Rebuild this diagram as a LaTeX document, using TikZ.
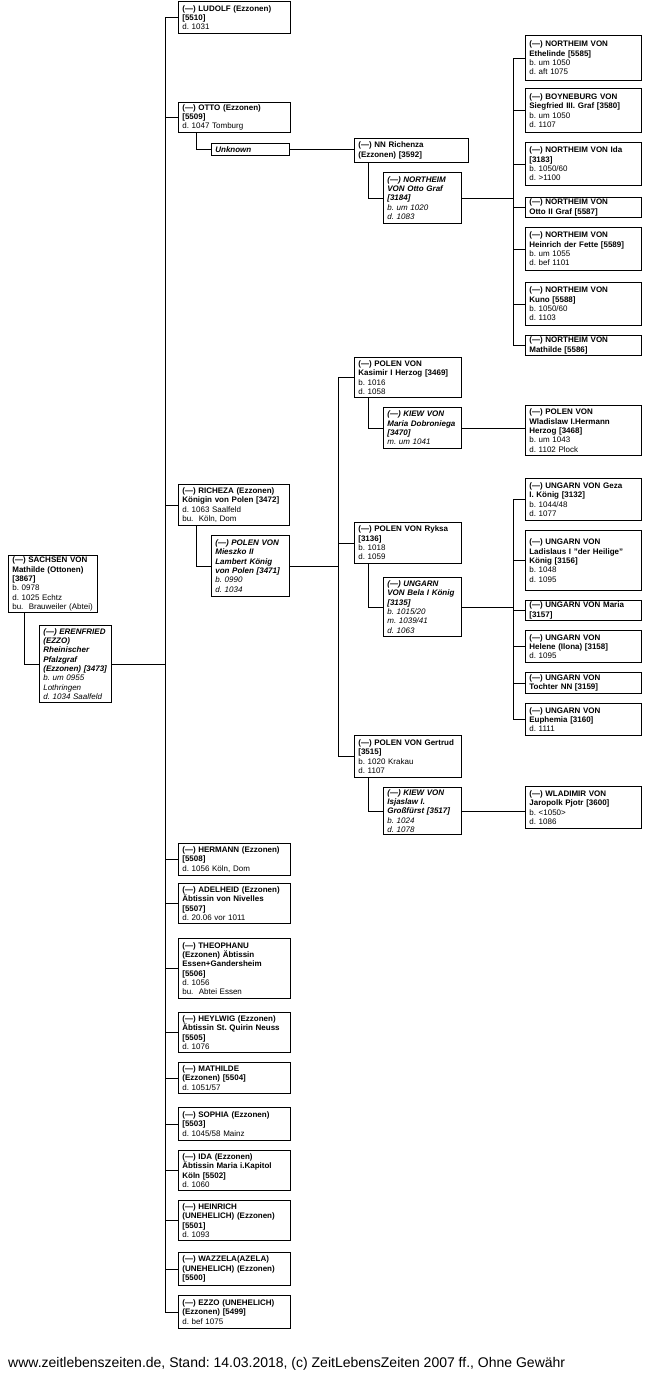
\documentclass[tikz,border=0pt]{standalone}
\usepackage{fontspec}
\setmainfont{Liberation Sans}
\frenchspacing
\tikzset{
  pbox/.style={draw=black, line width=1.1pt, fill=white, inner xsep=3.8pt, inner ysep=1.5pt,
    align=left, font=\fontsize{8}{9.3}\selectfont, anchor=north west},
  conn/.style={draw=black, line width=0.9pt},
}
\newcommand\pers[6]{%
  \pgfmathsetmacro\persTW{#4-7.6}%
  \node[pbox, minimum width=#4pt, minimum height=#5pt, text width=\persTW pt] (#1) at (#2,#3) {#6};}
\newcommand\bi[1]{\textbf{\textit{#1}}}
\begin{document}
\begin{tikzpicture}[x=1pt,y=-1pt]
\useasboundingbox (0,0) rectangle (650,1379);
\fill[white] (0,0) rectangle (650,1379);
\coordinate (t1) at (165,0);
\coordinate (t2) at (338,0);
\coordinate (t3) at (513,0);
% root and spouse
\pers{sachsen}{8}{555}{89}{57}{\textbf{(—) SACHSEN VON\\Mathilde (Ottonen)\\{}[3867]}\\b. 0978\\d. 1025 Echtz\\bu.\ \ Brauweiler (Abtei)}
\pers{erenfried}{39}{625}{72}{77}{\bi{(—) ERENFRIED\\(EZZO)\\Rheinischer\\Pfalzgraf\\(Ezzonen)~[3473]}\\\textit{b. um 0955\\Lothringen\\d. 1034 Saalfeld}}
% children column 1
\pers{ludolf}{178}{1}{112}{32}{\textbf{(—) LUDOLF (Ezzonen)\\{}[5510]}\\d. 1031}
\pers{otto}{178}{102}{112}{30}{\textbf{(—) OTTO (Ezzonen)\\{}[5509]}\\d. 1047 Tomburg}
\pers{unknown}{211}{143}{78}{12}{\bi{Unknown}}
\pers{richeza}{178}{484}{111}{41}{\textbf{(—) RICHEZA (Ezzonen)\\Königin von Polen [3472]}\\d. 1063 Saalfeld\\bu.\ \ Köln, Dom}
\pers{mieszko}{211}{535}{78}{61}{\bi{(—) POLEN VON\\Mieszko II\\Lambert König\\von Polen [3471]}\\\textit{b. 0990\\d. 1034}}
\pers{hermann}{178}{843}{112}{32}{\textbf{(—) HERMANN (Ezzonen)\\{}[5508]}\\d. 1056 Köln, Dom}
\pers{adelheid}{178}{883}{112}{40}{\textbf{(—) ADELHEID (Ezzonen)\\Äbtissin von Nivelles\\{}[5507]}\\d. 20.06 vor 1011}
\pers{theophanu}{178}{938}{112}{60}{\textbf{(—) THEOPHANU\\(Ezzonen) Äbtissin\\Essen+Gandersheim\\{}[5506]}\\d. 1056\\bu.\ \ Abtei Essen}
\pers{heylwig}{178}{1012}{112}{40}{\textbf{(—) HEYLWIG (Ezzonen)\\Äbtissin St. Quirin Neuss\\{}[5505]}\\d. 1076}
\pers{mathildee}{178}{1062}{112}{31}{\textbf{(—) MATHILDE\\(Ezzonen) [5504]}\\d. 1051/57}
\pers{sophia}{178}{1107}{112}{33}{\textbf{(—) SOPHIA (Ezzonen)\\{}[5503]}\\d. 1045/58 Mainz}
\pers{idae}{178}{1150}{112}{40}{\textbf{(—) IDA (Ezzonen)\\Äbtissin Maria i.Kapitol\\Köln [5502]}\\d. 1060}
\pers{heinrichu}{178}{1200}{112}{40}{\textbf{(—) HEINRICH\\(UNEHELICH) (Ezzonen)\\{}[5501]}\\d. 1093}
\pers{wazzela}{178}{1252}{112}{33}{\textbf{(—) WAZZELA(AZELA)\\(UNEHELICH) (Ezzonen)\\{}[5500]}}
\pers{ezzo}{178}{1295}{112}{33}{\textbf{(—) EZZO (UNEHELICH)\\(Ezzonen) [5499]}\\d. bef 1075}
% column 2
\pers{richenza}{354}{138}{114}{24}{\textbf{(—) NN Richenza\\(Ezzonen) [3592]}}
\pers{northeimotto}{383}{172}{78}{51}{\bi{(—) NORTHEIM\\VON Otto Graf\\{}[3184]}\\\textit{b. um 1020\\d. 1083}}
\pers{kasimir}{354}{357}{107}{40}{\textbf{(—) POLEN VON\\Kasimir I Herzog [3469]}\\b. 1016\\d. 1058}
\pers{kiewmaria}{383}{407}{78}{41}{\bi{(—) KIEW VON\\Maria~Dobroniega\\{}[3470]}\\\textit{m. um 1041}}
\pers{ryksa}{354}{522}{107}{41}{\textbf{(—) POLEN VON Ryksa\\{}[3136]}\\b. 1018\\d. 1059}
\pers{bela}{383}{577}{78}{59}{\bi{(—) UNGARN\\VON Bela I König\\{}[3135]}\\\textit{b. 1015/20\\m. 1039/41\\d. 1063}}
\pers{gertrud}{354}{735}{107}{42}{\textbf{(—) POLEN VON Gertrud\\{}[3515]}\\b. 1020 Krakau\\d. 1107}
\pers{isjaslaw}{383}{787}{78}{47}{\bi{(—) KIEW VON\\Isjaslaw I.\\Großfürst [3517]}\\\textit{b. 1024\\d. 1078}}
% column 3
\pers{ethelinde}{525}{35}{116}{45}{\textbf{(—) NORTHEIM VON\\Ethelinde [5585]}\\b. um 1050\\d. aft 1075}
\pers{boyneburg}{525}{88}{116}{44}{\textbf{(—) BOYNEBURG VON\\Siegfried III. Graf [3580]}\\b. um 1050\\d. 1107}
\pers{ida}{525}{142}{116}{43}{\textbf{(—) NORTHEIM VON Ida\\{}[3183]}\\b. 1050/60\\d. >1100}
\pers{ottoii}{525}{197}{116}{20}{\textbf{(—) NORTHEIM VON\\Otto II Graf [5587]}}
\pers{heinrichf}{525}{227}{116}{43}{\textbf{(—) NORTHEIM VON\\Heinrich der Fette [5589]}\\b. um 1055\\d. bef 1101}
\pers{kuno}{525}{282}{116}{43}{\textbf{(—) NORTHEIM VON\\Kuno [5588]}\\b. 1050/60\\d. 1103}
\pers{mathilden}{525}{335}{116}{20}{\textbf{(—) NORTHEIM VON\\Mathilde [5586]}}
\pers{wladislaw}{525}{405}{116}{50}{\textbf{(—) POLEN VON\\Wladislaw I.Hermann\\Herzog [3468]}\\b. um 1043\\d. 1102 Plock}
\pers{geza}{525}{478}{116}{42}{\textbf{(—) UNGARN VON Geza\\I. König [3132]}\\b. 1044/48\\d. 1077}
\pers{ladislaus}{525}{530}{116}{60}{\textbf{(—) UNGARN VON\\Ladislaus I "der Heilige"\\König [3156]}\\b. 1048\\d. 1095}
\pers{maria}{525}{600}{116}{20}{\textbf{(—) UNGARN VON Maria\\{}[3157]}}
\pers{helene}{525}{630}{116}{32}{\textbf{(—) UNGARN VON\\Helene (Ilona) [3158]}\\d. 1095}
\pers{tochter}{525}{672}{116}{21}{\textbf{(—) UNGARN VON\\Tochter NN [3159]}}
\pers{euphemia}{525}{703}{116}{32}{\textbf{(—) UNGARN VON\\Euphemia [3160]}\\d. 1111}
\pers{wladimir}{525}{786}{116}{42}{\textbf{(—) WLADIMIR VON\\Jaropolk Pjotr [3600]}\\b. <1050>\\d. 1086}
% connectors
\draw[conn] ([xshift=16pt]sachsen.south west) |- (erenfried.west);
\draw[conn] (erenfried.east) -- (erenfried.east -| t1);
\draw[conn] (ludolf.west -| t1) -- (ezzo.west -| t1);
\foreach \c in {ludolf,otto,richeza,hermann,adelheid,theophanu,heylwig,mathildee,sophia,idae,heinrichu,wazzela,ezzo}
  \draw[conn] (\c.west -| t1) -- (\c.west);
\draw[conn] ([xshift=18pt]otto.south west) |- (unknown.west);
\draw[conn] (unknown.east) -- (unknown.east -| richenza.west);
\draw[conn] ([xshift=14pt]richenza.south west) |- (northeimotto.west);
\draw[conn] (northeimotto.east) -- (northeimotto.east -| t3);
\draw[conn] (ethelinde.west -| t3) -- (mathilden.west -| t3);
\foreach \c in {ethelinde,boyneburg,ida,ottoii,heinrichf,kuno,mathilden}
  \draw[conn] (\c.west -| t3) -- (\c.west);
\draw[conn] ([xshift=18pt]richeza.south west) |- (mieszko.west);
\draw[conn] (mieszko.east) -- (mieszko.east -| t2);
\draw[conn] (kasimir.west -| t2) -- (gertrud.west -| t2);
\foreach \c in {kasimir,ryksa,gertrud}
  \draw[conn] (\c.west -| t2) -- (\c.west);
\draw[conn] ([xshift=14pt]kasimir.south west) |- (kiewmaria.west);
\draw[conn] (kiewmaria.east) -- (kiewmaria.east -| wladislaw.west);
\draw[conn] ([xshift=14pt]ryksa.south west) |- (bela.west);
\draw[conn] (bela.east) -- (bela.east -| t3);
\draw[conn] (geza.west -| t3) -- (euphemia.west -| t3);
\foreach \c in {geza,ladislaus,maria,helene,tochter,euphemia}
  \draw[conn] (\c.west -| t3) -- (\c.west);
\draw[conn] ([xshift=14pt]gertrud.south west) |- (isjaslaw.west);
\draw[conn] (isjaslaw.east) -- (isjaslaw.east -| wladimir.west);
% footer
\node[anchor=base west, inner sep=0pt, font=\fontsize{14}{16}\selectfont] (footer) at (8,1367) {www.zeitlebenszeiten.de, Stand: 14.03.2018, (c) ZeitLebensZeiten 2007 ff., Ohne Gewähr};
\end{tikzpicture}
\end{document}
